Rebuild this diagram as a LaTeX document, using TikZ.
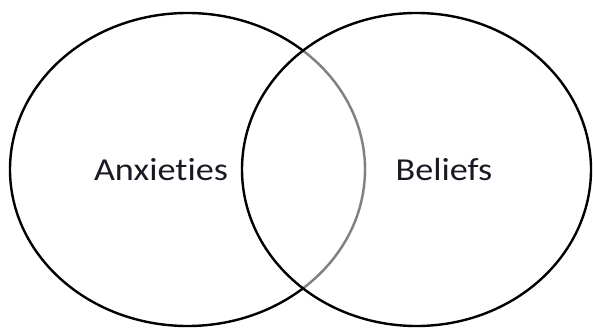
\documentclass[tikz,border=0pt]{standalone}
\usepackage{fontspec}
\setmainfont[Ligatures={NoCommon}]{Carlito}
\usepackage{tikz}
\usepackage{xcolor}
\definecolor{arcgray}{RGB}{128, 128, 128}
\definecolor{labeldark}{RGB}{25, 25, 35}

\begin{document}
\begin{tikzpicture}[x=1pt, y=-1pt, line width=2.4pt,
    setlabel/.style={font=\fontsize{32}{38}\selectfont, text=labeldark, xscale=1.13, inner sep=0pt}]
    \useasboundingbox (0, 0) rectangle (593, 328);
    \draw[black] (187.5, 169.5) ellipse [x radius=177.5, y radius=156.5];
    \begin{scope}
      \clip (416.5, 169.5) ellipse [x radius=174.5, y radius=156.5];
      \draw[white, line width=3.4pt] (187.5, 169.5) ellipse [x radius=177.5, y radius=156.5];
      \draw[arcgray] (187.5, 169.5) ellipse [x radius=177.5, y radius=156.5];
    \end{scope}
    \draw[black] (416.5, 169.5) ellipse [x radius=174.5, y radius=156.5];
    \node[setlabel] (anx) at (161, 170) {Anxieties};
    \node[setlabel] (bel) at (444, 170) {Beliefs};
  \end{tikzpicture}
\end{document}
